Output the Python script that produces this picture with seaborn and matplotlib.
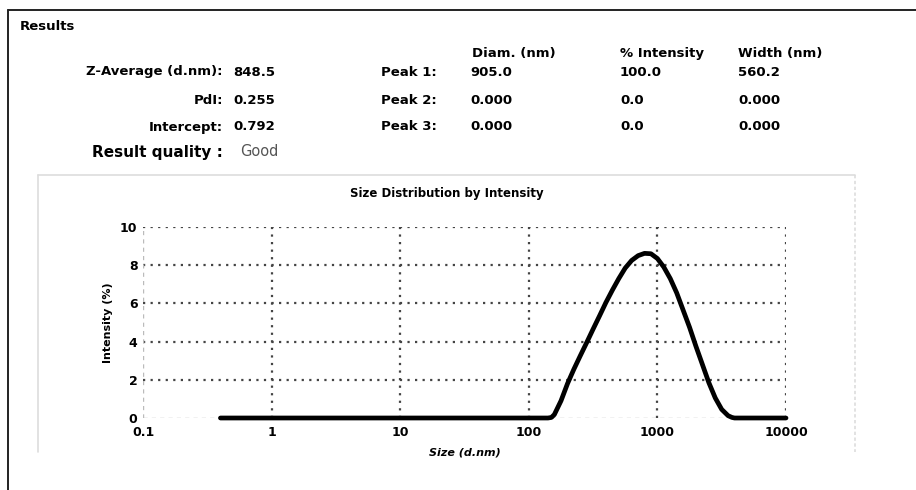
import numpy as np
import pandas as pd
import matplotlib
matplotlib.use("Agg")
import matplotlib.pyplot as plt
from matplotlib.lines import Line2D
from matplotlib.ticker import FixedLocator, FixedFormatter, NullLocator
import seaborn as sns

# ---------------- data ----------------
sizes_nm = [0.4, 1, 10, 100, 141, 150, 158, 178, 200, 224, 251, 282, 316, 355, 398, 447, 501,
            562, 631, 708, 794, 891, 1000, 1122, 1259, 1413, 1585, 1778, 1995, 2239,
            2512, 2818, 3162, 3548, 3800, 3981, 10000]
intensity_pct = [0, 0, 0, 0, 0, 0.03, 0.18, 0.9, 1.8, 2.55, 3.25, 3.95, 4.65, 5.35, 6.05, 6.7, 7.3,
                 7.85, 8.25, 8.5, 8.62, 8.6, 8.35, 7.9, 7.3, 6.55, 5.65, 4.75, 3.75, 2.8,
                 1.85, 1.05, 0.45, 0.12, 0.03, 0, 0]

x_ticks = [0.1, 1, 10, 100, 1000, 10000]
x_tick_labels = ["0.1", "1", "10", "100", "1000", "10000"]
y_ticks = [0, 2, 4, 6, 8, 10]
y_tick_labels = ["0", "2", "4", "6", "8", "10"]

left_labels = ["Z-Average (d.nm):", "PdI:", "Intercept:"]
left_values = ["848.5", "0.255", "0.792"]
peak_labels = ["Peak 1:", "Peak 2:", "Peak 3:"]
col_headers = ["Diam. (nm)", "% Intensity", "Width (nm)"]
diam_values = ["905.0", "0.000", "0.000"]
intensity_values = ["100.0", "0.0", "0.0"]
width_values = ["560.2", "0.000", "0.000"]

df = pd.DataFrame({"size": sizes_nm, "intensity": intensity_pct})

# ---------------- figure ----------------
sns.set_style("white")
plt.rcParams["font.family"] = ["DejaVu Sans"]
plt.rcParams["text.color"] = "black"
plt.rcParams["axes.labelcolor"] = "black"
plt.rcParams["xtick.color"] = "black"
plt.rcParams["ytick.color"] = "black"

W, H = 916, 490
fig = plt.figure(figsize=(W / 100, H / 100), dpi=100)
fig.patch.set_facecolor("white")

def fx(px):
    return px / W

def fy(py):
    return 1 - py / H

# outer border (top and left)
fig.add_artist(Line2D([fx(8), 1.0], [fy(10), fy(10)], color="#222222", lw=1.4))
fig.add_artist(Line2D([fx(8), fx(8)], [fy(10), 0.0], color="#222222", lw=1.4))

# chart panel (light grey top/left/right)
fig.add_artist(Line2D([fx(38), fx(855)], [fy(175), fy(175)], color="#dddddd", lw=1.2))
fig.add_artist(Line2D([fx(38), fx(38)], [fy(175), fy(452)], color="#dddddd", lw=1.2))
fig.add_artist(Line2D([fx(855), fx(855)], [fy(175), fy(452)], color="#dddddd", lw=1.2, ls=(0, (2, 1.5))))

# header texts
tk = dict(fontweight="bold", color="black", fontsize=9.5, va="center")
fig.text(fx(20), fy(26), "Results", ha="left", **tk)
rows_y = [72, 100, 127]
for lab, val, pk, d, i, w, yy in zip(left_labels, left_values, peak_labels,
                                     diam_values, intensity_values, width_values, rows_y):
    fig.text(fx(223), fy(yy), lab, ha="right", **tk)
    fig.text(fx(233), fy(yy), val, ha="left", **tk)
    fig.text(fx(437), fy(yy), pk, ha="right", **tk)
    fig.text(fx(470), fy(yy), d, ha="left", **tk)
    fig.text(fx(620), fy(yy), i, ha="left", **tk)
    fig.text(fx(738), fy(yy), w, ha="left", **tk)
for hx, h in zip([472, 620, 738], col_headers):
    fig.text(fx(hx), fy(53), h, ha="left", **tk)
fig.text(fx(223), fy(153), "Result quality :", ha="right", fontweight="bold",
         color="black", fontsize=11, va="center")
fig.text(fx(240), fy(152), "Good", ha="left", color="#555555", fontsize=10.5,
         fontweight="normal", va="center")
fig.text(fx(447), fy(194), "Size Distribution by Intensity", ha="center", va="center",
         fontsize=8.5, fontweight="bold")

# ---------------- axes ----------------
ax = fig.add_axes([fx(143), fy(418), fx(786) - fx(143), fy(227) - fy(418)])
ax.set_facecolor("white")
sns.lineplot(data=df, x="size", y="intensity", ax=ax, color="black", lw=3.4,
             clip_on=False, zorder=5)
ax.lines[-1].set_solid_joinstyle("round")
ax.set_xscale("log")
ax.set_xlim(0.1, 10000)
ax.set_ylim(0, 10)

for s in ax.spines.values():
    s.set_visible(False)

grid_kw = dict(color="#444444", lw=1.6, ls=(0, (1, 2.4)), zorder=1)
for xv in x_ticks[1:]:
    ax.axvline(xv, **grid_kw)
for yv in y_ticks[1:]:
    ax.axhline(yv, **grid_kw)
# faint axis lines
ax.axvline(0.1, color="#bbbbbb", lw=1.0, ls=(0, (3, 3)), zorder=1)
ax.axhline(0, color="#bbbbbb", lw=1.0, ls=(0, (3, 3)), zorder=1)

ax.xaxis.set_major_locator(FixedLocator(x_ticks))
ax.xaxis.set_major_formatter(FixedFormatter(x_tick_labels))
ax.xaxis.set_minor_locator(NullLocator())
ax.yaxis.set_major_locator(FixedLocator(y_ticks))
ax.yaxis.set_major_formatter(FixedFormatter(y_tick_labels))
ax.tick_params(axis="both", length=0, labelsize=9, colors="black")
ax.tick_params(axis="x", pad=6)
ax.tick_params(axis="y", pad=4)
for lab in ax.get_xticklabels() + ax.get_yticklabels():
    lab.set_fontweight("bold")

ax.set_xlabel("Size (d.nm)", fontsize=8, fontweight="bold", fontstyle="italic", labelpad=6)
ax.set_ylabel("Intensity (%)", fontsize=8, fontweight="bold", labelpad=5)

fig.savefig("out.png", dpi=100, facecolor="white")
